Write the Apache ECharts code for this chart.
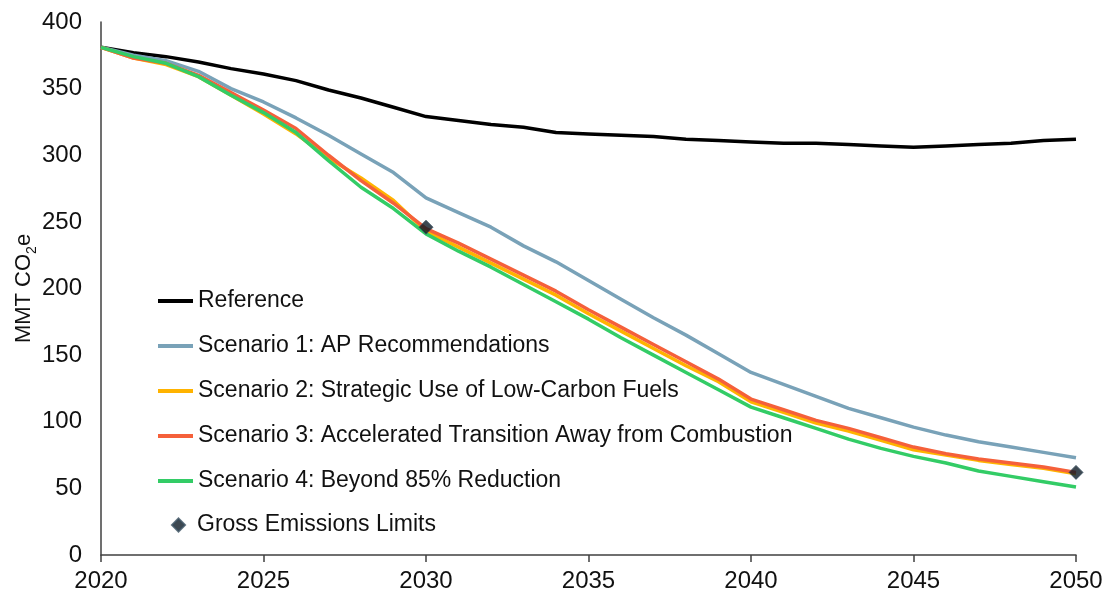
<!DOCTYPE html>
<html>
<head>
<meta charset="utf-8">
<script src="https://cdn.jsdelivr.net/npm/echarts@6/dist/echarts.min.js"></script>
<style>
  html, body { margin: 0; padding: 0; background: #fff; }
  #chart { width: 1107px; height: 596px; }
</style>
</head>
<body>
<div id="chart"></div>
<script>
// years 2020..2050
var years = [];
for (var y = 2020; y <= 2050; y++) years.push(y);

var reference = [381, 377, 374, 370, 365, 361, 356, 349, 343, 336, 329, 326, 323, 321, 317, 316, 315, 314, 312, 311, 310, 309, 309, 308, 307, 306, 307, 308, 309, 311, 312];
var scenario1 = [381, 375, 371, 363, 350, 340, 328, 315, 301, 287, 268, 257, 246, 232, 220, 206, 192, 178, 165, 151, 137, 128, 119, 110, 103, 96, 90, 85, 81, 77, 73];
var scenario2 = [381, 373, 368, 359, 345, 331, 316, 298, 283, 266, 243, 231, 219, 207, 195, 181, 168, 155, 142, 130, 115, 107, 99, 93, 86, 79, 75, 71, 68, 65, 61];
var scenario3 = [381, 373, 369, 360, 347, 334, 320, 300, 281, 264, 245, 234, 222, 210, 198, 184, 171, 158, 145, 132, 117, 109, 101, 95, 88, 81, 76, 72, 69, 66, 62];
var scenario4 = [381, 374, 369, 359, 345, 332, 317, 296, 276, 260, 241, 228, 216, 203, 190, 177, 163, 150, 137, 124, 111, 103, 95, 87, 80, 74, 69, 63, 59, 55, 51];
var limitYears = [2030, 2050];
var limitValues = [246, 62];

function pairs(vals) {
  var out = [];
  for (var i = 0; i < vals.length; i++) out.push([years[i], vals[i]]);
  return out;
}

var limits = [];
for (var i = 0; i < limitYears.length; i++) limits.push([limitYears[i], limitValues[i]]);

var font = 'Liberation Sans, Arial, sans-serif';

function lineSeries(name, data, color) {
  return {
    name: name,
    type: 'line',
    data: pairs(data),
    showSymbol: false,
    symbol: 'none',
    lineStyle: { color: color, width: 3.5 },
    itemStyle: { color: color },
    animation: false
  };
}

var chart = echarts.init(document.getElementById('chart'));

var option = {
  backgroundColor: '#fff',
  animation: false,
  grid: { left: 101, right: 31, top: 22, bottom: 41, containLabel: false, outerBoundsMode: 'none' },
  legend: [{
    orient: 'vertical',
    left: 158,
    top: 289,
    padding: 0,
    icon: 'rect',
    itemWidth: 35,
    itemHeight: 4,
    itemGap: 21,
    textStyle: { fontFamily: font, fontSize: 23, color: '#111', lineHeight: 24 },
    data: ['Reference', 'Scenario 1: AP Recommendations', 'Scenario 2: Strategic Use of Low-Carbon Fuels',
      'Scenario 3: Accelerated Transition Away from Combustion', 'Scenario 4: Beyond 85% Reduction']
  }, {
    orient: 'vertical',
    left: 171,
    top: 513,
    padding: 0,
    icon: 'diamond',
    itemWidth: 13,
    itemHeight: 13,
    textStyle: { fontFamily: font, fontSize: 23, color: '#111', lineHeight: 24, padding: [0, 0, 0, 7] },
    data: ['Gross Emissions Limits']
  }],
  xAxis: {
    type: 'value',
    min: 2020,
    max: 2050,
    interval: 5,
    axisLine: { lineStyle: { color: '#404040', width: 1.5 } },
    axisTick: { show: true, length: 7, lineStyle: { color: '#404040', width: 1.5 } },
    axisLabel: { fontFamily: font, fontSize: 24, color: '#111', margin: 14, formatter: function (v) { return String(v); } },
    splitLine: { show: false }
  },
  yAxis: {
    type: 'value',
    min: 0,
    max: 400,
    interval: 50,
    name: '{a|MMT CO}{b|2}{a|e}',
    nameLocation: 'middle',
    nameRotate: 90,
    nameGap: 62,
    nameMoveOverlap: false,
    nameTextStyle: {
      rich: {
        a: { fontFamily: font, fontSize: 22, color: '#111', lineHeight: 30, verticalAlign: 'middle' },
        b: { fontFamily: font, fontSize: 14, color: '#111', lineHeight: 14, verticalAlign: 'bottom' }
      }
    },
    axisLine: { show: true, lineStyle: { color: '#404040', width: 1.5 } },
    axisTick: { show: false },
    axisLabel: { fontFamily: font, fontSize: 24, color: '#111', margin: 19 },
    splitLine: { show: false }
  },
  series: [
    lineSeries('Reference', reference, '#000000'),
    lineSeries('Scenario 1: AP Recommendations', scenario1, '#79a2b8'),
    lineSeries('Scenario 2: Strategic Use of Low-Carbon Fuels', scenario2, '#ffb300'),
    lineSeries('Scenario 3: Accelerated Transition Away from Combustion', scenario3, '#f5603a'),
    lineSeries('Scenario 4: Beyond 85% Reduction', scenario4, '#33cc66'),
    {
      name: 'Gross Emissions Limits',
      type: 'scatter',
      data: limits,
      symbol: 'diamond',
      symbolSize: 14,
      itemStyle: { color: '#0d1a26', borderColor: '#3a5060', borderWidth: 1 },
      z: 5,
      animation: false
    }
  ]
};

chart.setOption(option);
</script>
</body>
</html>
